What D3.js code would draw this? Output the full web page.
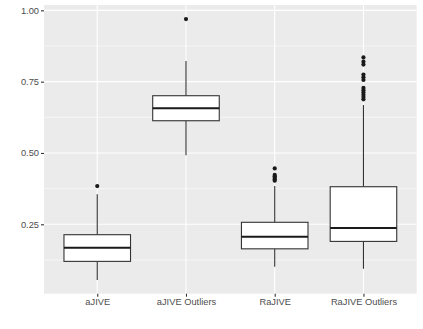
<!DOCTYPE html>
<html><head><meta charset="utf-8">
<script src="https://cdn.jsdelivr.net/npm/d3@7"></script>
<style>body{margin:0;background:#fff;} svg{display:block;}</style>
</head><body>
<svg id="c" width="423" height="329"></svg>
<script>
const categories = ["aJIVE", "aJIVE Outliers", "RaJIVE", "RaJIVE Outliers"];
const lowerWhisker = [0.055, 0.492, 0.101, 0.094];
const q1 = [0.120, 0.613, 0.164, 0.190];
const median = [0.168, 0.6565, 0.2065, 0.237];
const q3 = [0.2135, 0.7007, 0.257, 0.3817];
const upperWhisker = [0.355, 0.822, 0.384, 0.668];
const outliers = [
  [0.384],
  [0.9695],
  [0.446, 0.423, 0.418, 0.413, 0.408, 0.403],
  [0.835, 0.820, 0.810, 0.775, 0.765, 0.756, 0.728, 0.720, 0.712, 0.704, 0.696, 0.688]
];
const yTicks = [0.25, 0.50, 0.75, 1.00];
const yMinor = [0.125, 0.375, 0.625, 0.875];

const svg = d3.select("#c");
const L = 44, R = 416.7, T = 5, B = 293.7;
const yMin = 0.0527, yMax = 0.9727, span = yMax - yMin;
const y = d3.scaleLinear().domain([yMin - 0.05*span, yMax + 0.05*span]).range([B, T]);
const x = d3.scaleBand().domain(categories).range([L, R]).paddingOuter(0.6 - 0.5).paddingInner(0);
// band centers: use point-ish positions with ggplot's 0.6 expansion
const unit = (R - L) / (categories.length - 1 + 1.2);
const cx = c => L + unit * (0.6 + categories.indexOf(c));
const boxW = unit * 0.75;

svg.append("rect").attr("x", L).attr("y", T).attr("width", R - L).attr("height", B - T).attr("fill", "#EBEBEB");

const g = svg.append("g");
yMinor.forEach(v => g.append("line").attr("x1", L).attr("x2", R).attr("y1", y(v)).attr("y2", y(v))
  .attr("stroke", "#fff").attr("stroke-width", 0.55));
yTicks.forEach(v => g.append("line").attr("x1", L).attr("x2", R).attr("y1", y(v)).attr("y2", y(v))
  .attr("stroke", "#fff").attr("stroke-width", 1.1));
categories.forEach(c => g.append("line").attr("x1", cx(c)).attr("x2", cx(c)).attr("y1", T).attr("y2", B)
  .attr("stroke", "#fff").attr("stroke-width", 1.1));

// Boxes
categories.forEach((c, i) => {
  const X = cx(c);
  const bg = svg.append("g");
  bg.append("line").attr("x1", X).attr("x2", X).attr("y1", y(upperWhisker[i])).attr("y2", y(q3[i]))
    .attr("stroke", "#333").attr("stroke-width", 1.1);
  bg.append("line").attr("x1", X).attr("x2", X).attr("y1", y(q1[i])).attr("y2", y(lowerWhisker[i]))
    .attr("stroke", "#333").attr("stroke-width", 1.1);
  bg.append("rect").attr("x", X - boxW/2).attr("width", boxW)
    .attr("y", y(q3[i])).attr("height", y(q1[i]) - y(q3[i]))
    .attr("fill", "#fff").attr("stroke", "#333").attr("stroke-width", 1.1);
  bg.append("line").attr("x1", X - boxW/2).attr("x2", X + boxW/2).attr("y1", y(median[i])).attr("y2", y(median[i]))
    .attr("stroke", "#1a1a1a").attr("stroke-width", 2);
  outliers[i].forEach(v => bg.append("circle").attr("cx", X).attr("cy", y(v)).attr("r", 2.1).attr("fill", "#1a1a1a"));
});

// Axes
const yAxis = d3.axisLeft(y).tickValues(yTicks).tickFormat(d3.format(".2f")).tickSize(3).tickPadding(2);
const ya = svg.append("g").attr("transform", `translate(${L},0)`).call(yAxis);
ya.select(".domain").remove();
ya.selectAll(".tick line").attr("stroke", "#333").attr("stroke-width", 1.1);
ya.selectAll("text").attr("fill", "#4D4D4D").style("font-family", "Liberation Sans, Arial, sans-serif").style("font-size", "9.3px");

const xp = d3.scalePoint().domain(categories).range([cx(categories[0]), cx(categories[3])]);
const xAxis = d3.axisBottom(xp).tickSize(3).tickPadding(2);
const xa = svg.append("g").attr("transform", `translate(0,${B})`).call(xAxis);
xa.select(".domain").remove();
xa.selectAll(".tick line").attr("stroke", "#333").attr("stroke-width", 1.1);
xa.selectAll("text").attr("fill", "#4D4D4D").style("font-family", "Liberation Sans, Arial, sans-serif").style("font-size", "9.3px");
</script>
</body></html>
